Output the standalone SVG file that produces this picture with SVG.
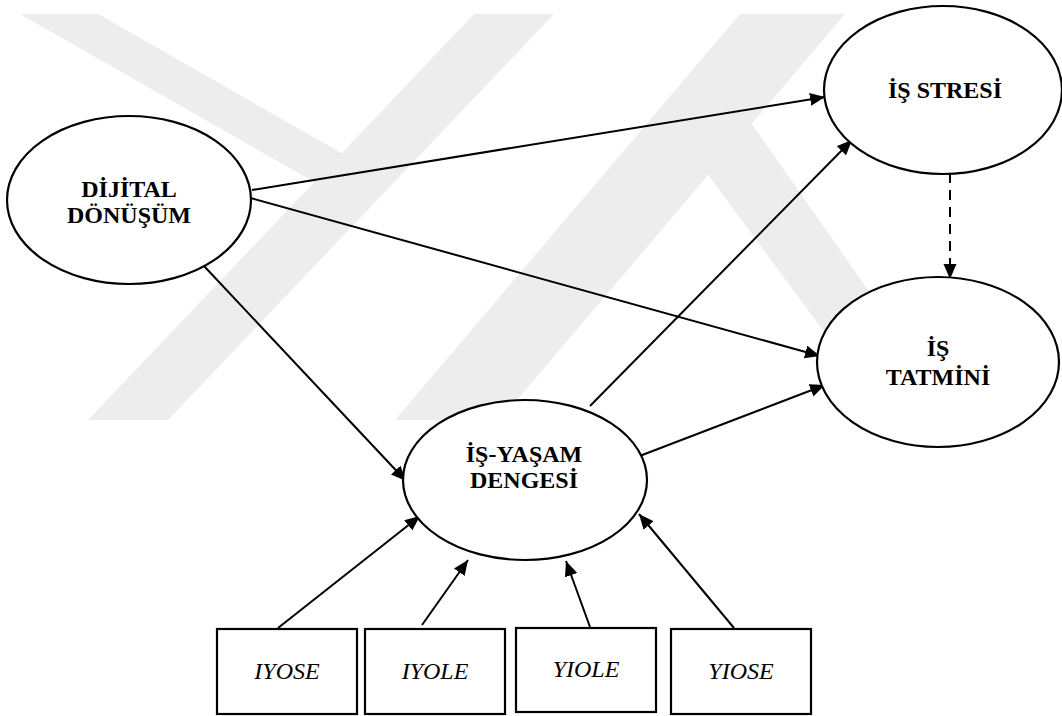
<svg xmlns="http://www.w3.org/2000/svg" width="1062" height="716" viewBox="0 0 1062 716">
  <defs>
    <marker id="arrow" markerUnits="userSpaceOnUse" markerWidth="16" markerHeight="14" refX="15" refY="6.5" orient="auto">
      <path d="M0,0 L15,6.5 L0,13 z" fill="#000"/>
    </marker>
    <style>
      .mark { fill: #ededed; }
      .node ellipse { fill: #fff; stroke: #000; stroke-width: 2.2; }
      .node rect { fill: #fff; stroke: #000; stroke-width: 2.2; }
      .lbl { font-family: "Liberation Serif", "Times New Roman", serif; font-weight: bold; font-size: 24px; text-anchor: middle; fill: #000; }
      .ind { font-family: "Liberation Serif", "Times New Roman", serif; font-style: italic; font-size: 24px; text-anchor: middle; fill: #000; }
      .edge { stroke: #000; stroke-width: 2; fill: none; marker-end: url(#arrow); }
      .dash { stroke-dasharray: 10 7; }
    </style>
  </defs>

  <rect x="0" y="0" width="1062" height="716" fill="#fff"/>

  <!-- faint background emblem -->
  <g id="emblem">
    <polygon class="mark" points="474,14 554,14 168,420 88,420"/>
    <polygon class="mark" points="20,14 98,14 378,174 335,194"/>
    <polygon class="mark" points="740,14 845,14 500,420 395,420"/>
    <polygon class="mark" points="740,107 959,420 889,420 690,150"/>
  </g>

  <!-- connectors -->
  <g id="connectors">
    <line class="edge" x1="252" y1="190" x2="825" y2="97"/>
    <line class="edge" x1="247" y1="197" x2="820" y2="356"/>
    <line class="edge" x1="204" y1="266" x2="406" y2="481"/>
    <line class="edge" x1="590" y1="406" x2="852" y2="140"/>
    <line class="edge" x1="637" y1="457" x2="825" y2="385"/>
    <line class="edge dash" x1="950" y1="173" x2="950" y2="279"/>
    <line class="edge" x1="278" y1="628" x2="420" y2="516"/>
    <line class="edge" x1="422" y1="625" x2="468" y2="560"/>
    <line class="edge" x1="590" y1="627" x2="566" y2="561"/>
    <line class="edge" x1="734" y1="628" x2="639" y2="514"/>
  </g>

  <!-- latent constructs -->
  <g id="dijital-donusum" class="node">
    <ellipse cx="129" cy="200" rx="122" ry="84"/>
    <text class="lbl" x="129" y="197">DİJİTAL</text>
    <text class="lbl" x="129" y="223">DÖNÜŞÜM</text>
  </g>
  <g id="is-stresi" class="node">
    <ellipse cx="943" cy="90" rx="119" ry="84"/>
    <text class="lbl" x="945" y="98">İŞ STRESİ</text>
  </g>
  <g id="is-tatmini" class="node">
    <ellipse cx="938" cy="362" rx="121" ry="85"/>
    <text class="lbl" x="938" y="356">İŞ</text>
    <text class="lbl" x="938" y="385">TATMİNİ</text>
  </g>
  <g id="is-yasam-dengesi" class="node">
    <ellipse cx="525" cy="480" rx="122" ry="80"/>
    <text class="lbl" x="524" y="462">İŞ-YAŞAM</text>
    <text class="lbl" x="524" y="488">DENGESİ</text>
  </g>

  <!-- observed indicators -->
  <g id="iyose" class="node">
    <rect x="217" y="629" width="140" height="85"/>
    <text class="ind" x="287" y="679">IYOSE</text>
  </g>
  <g id="iyole" class="node">
    <rect x="365" y="629" width="140" height="85"/>
    <text class="ind" x="435" y="679">IYOLE</text>
  </g>
  <g id="yiole" class="node">
    <rect x="516" y="628" width="140" height="84"/>
    <text class="ind" x="586" y="677">YIOLE</text>
  </g>
  <g id="yiose" class="node">
    <rect x="671" y="629" width="140" height="85"/>
    <text class="ind" x="741" y="679">YIOSE</text>
  </g>
</svg>
